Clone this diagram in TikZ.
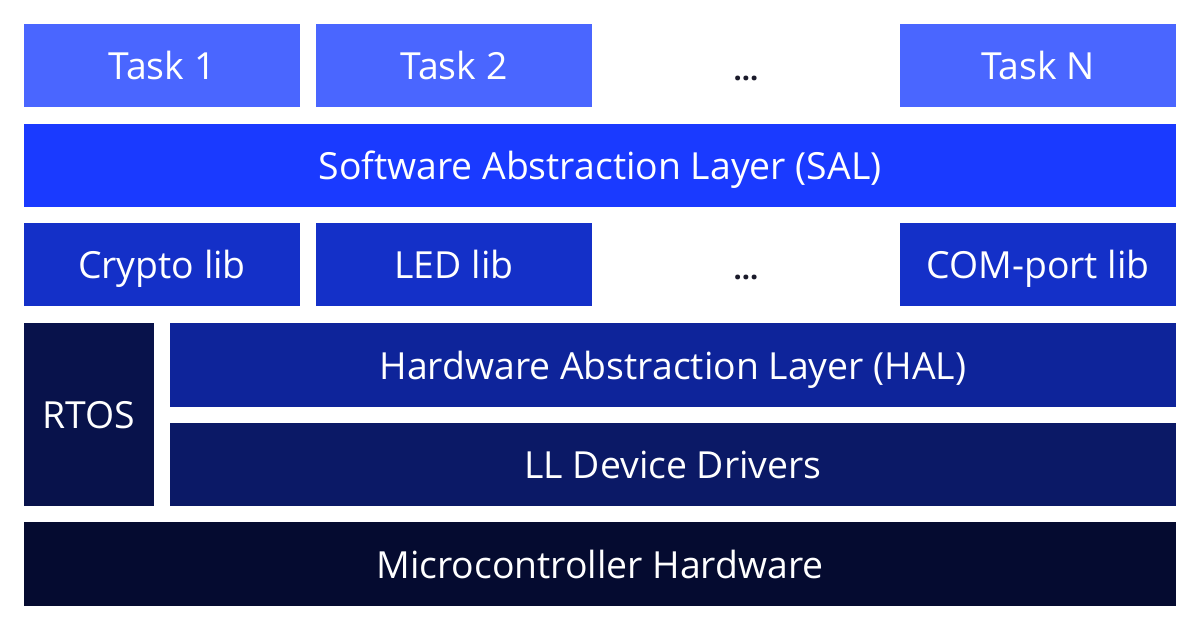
\documentclass[tikz,border=0pt]{standalone}
\usepackage{fontspec}
\setmainfont{Open Sans}
\definecolor{ctask}{HTML}{4A66FF}
\definecolor{csal}{HTML}{1A3AFF}
\definecolor{clib}{HTML}{1430C8}
\definecolor{chal}{HTML}{0E249A}
\definecolor{cll}{HTML}{0B1966}
\definecolor{crtos}{HTML}{08124B}
\definecolor{cmcu}{HTML}{050B30}
\definecolor{cdots}{HTML}{1A1A2A}
\begin{document}
\begin{tikzpicture}[x=1bp,y=-1bp,
  blk/.style={draw=none,inner sep=0pt,anchor=base,text=white,font=\fontsize{37.5}{42}\selectfont},
  dotsnode/.style={inner sep=0pt,anchor=base,text=cdots,font=\fontsize{29}{34}\selectfont\bfseries}]
\useasboundingbox (0,0) rectangle (1200,630);
\fill[white] (0,0) rectangle (1200,630);
% Row 1
\fill[ctask] (24,24) rectangle (300,107);
\node[blk] (t1) at (162,79.5) {Task 1};
\fill[ctask] (316,24) rectangle (592,107);
\node[blk] (t2) at (454,79.5) {Task 2};
\node[dotsnode] (d1) at (746,81) {...};
\fill[ctask] (900,24) rectangle (1176,107);
\node[blk] (tn) at (1038,79.5) {Task N};
% SAL
\fill[csal] (24,124) rectangle (1176,207);
\node[blk] (sal) at (600,179.5) {Software Abstraction Layer (SAL)};
% Libs
\fill[clib] (24,223) rectangle (300,306);
\node[blk] (l1) at (162,278.5) {Crypto lib};
\fill[clib] (316,223) rectangle (592,306);
\node[blk] (l2) at (454,278.5) {LED lib};
\node[dotsnode] (d2) at (746,280) {...};
\fill[clib] (900,223) rectangle (1176,306);
\node[blk] (ln) at (1038,278.5) {COM-port lib};
% RTOS
\fill[crtos] (24,323) rectangle (154,506);
\node[blk] (rtos) at (89,428.5) {RTOS};
% HAL
\fill[chal] (170,323) rectangle (1176,407);
\node[blk] (hal) at (673,379) {Hardware Abstraction Layer (HAL)};
% LL
\fill[cll] (170,423) rectangle (1176,506);
\node[blk] (ll) at (673,478.5) {LL Device Drivers};
% MCU
\fill[cmcu] (24,522) rectangle (1176,606);
\node[blk] (mcu) at (600,578) {Microcontroller Hardware};
\end{tikzpicture}
\end{document}
